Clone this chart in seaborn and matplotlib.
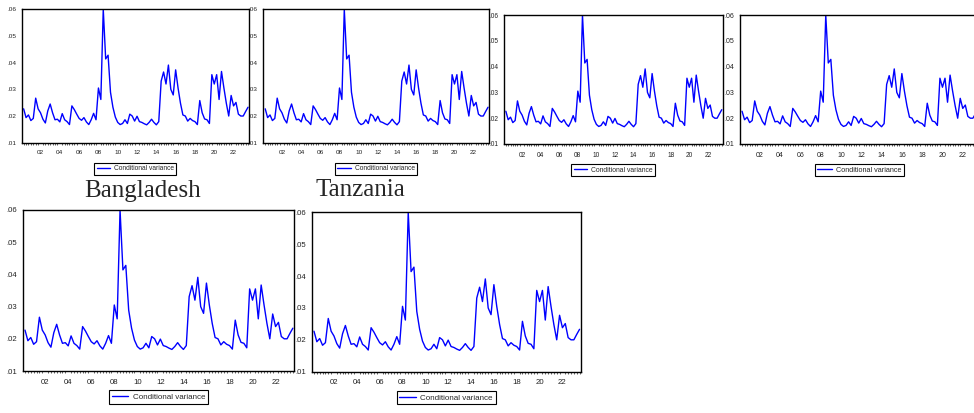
import matplotlib
matplotlib.use("Agg")
import matplotlib.pyplot as plt
import matplotlib.ticker as mticker
import numpy as np
import pandas as pd
import seaborn as sns

# ---- data (quarterly conditional variance, same series in every panel) ----
start_year = 2000.25          # first quarter shown
quarter_step = 0.25
cond_var = [0.0227, 0.0194, 0.0204, 0.0183, 0.0191, 0.0267, 0.0227, 0.0212, 0.0188, 0.0174,
            0.0219, 0.0245, 0.0212, 0.0186, 0.0188, 0.0178, 0.0209, 0.0186, 0.0179, 0.0168,
            0.0238, 0.0224, 0.0207, 0.0191, 0.0184, 0.0194, 0.0178, 0.0168, 0.0186, 0.0210,
            0.0186, 0.0305, 0.0262, 0.0600, 0.0414, 0.0428, 0.0289, 0.0233, 0.0196, 0.0176,
            0.0168, 0.0172, 0.0186, 0.0172, 0.0207, 0.0200, 0.0181, 0.0199, 0.0179, 0.0176,
            0.0171, 0.0167, 0.0176, 0.0188, 0.0176, 0.0167, 0.0179, 0.0331, 0.0365, 0.0320,
            0.0391, 0.0300, 0.0279, 0.0373, 0.0305, 0.0248, 0.0204, 0.0200, 0.0181, 0.0191,
            0.0183, 0.0179, 0.0168, 0.0258, 0.0212, 0.0189, 0.0186, 0.0172, 0.0355, 0.0320,
            0.0355, 0.0262, 0.0367, 0.0305, 0.0248, 0.0200, 0.0277, 0.0238, 0.0251, 0.0207,
            0.0200, 0.0200, 0.0217, 0.0233]
label_years = [2002, 2004, 2006, 2008, 2010, 2012, 2014, 2016, 2018, 2020, 2022]
year_labels = ["02", "04", "06", "08", "10", "12", "14", "16", "18", "20", "22"]
y_ticks = [0.01, 0.02, 0.03, 0.04, 0.05, 0.06]
series_name = "Conditional variance"
country_names = ["Bangladesh", "Tanzania"]

dates = start_year + quarter_step * np.arange(len(cond_var))
df = pd.DataFrame({"date": dates, "value": cond_var})

sns.set_style("white")
plt.rcParams["font.family"] = ["Liberation Sans", "DejaVu Sans"]

W, H = 974, 413
fig = plt.figure(figsize=(W / 100, H / 100), dpi=100)

# panel boxes in pixels: left, right, top, bottom ; font sizes
panels = [
    (21.7, 249.0, 9.3, 142.7, 4.6),
    (263.3, 489.0, 9.3, 142.7, 4.6),
    (504.0, 722.7, 15.0, 144.0, 4.7),
    (740.0, 979.0, 15.0, 144.0, 5.0),
    (22.7, 294.0, 210.0, 371.0, 5.6),
    (311.7, 580.7, 212.3, 371.7, 5.6),
]

for (l, r, t, b, fs) in panels:
    ax = fig.add_axes([l / W, 1 - b / H, (r - l) / W, (b - t) / H])
    sns.lineplot(data=df, x="date", y="value", ax=ax, color="#0000ff",
                 linewidth=1.0, label=series_name)
    ax.set_xlim(2000.05, 2023.6)
    ax.set_ylim(0.01, 0.06)
    ax.set_xlabel("")
    ax.set_ylabel("")
    ax.set_yticks(y_ticks)
    ax.yaxis.set_major_formatter(mticker.FuncFormatter(lambda v, p: f"{v:.2f}"[1:]))
    ax.set_xticks(label_years)
    ax.set_xticklabels(year_labels)
    ax.xaxis.set_minor_locator(mticker.FixedLocator(np.arange(2000.0, 2023.76, 0.25)))
    ax.tick_params(axis="both", which="major", direction="out", length=2.5,
                   width=0.6, labelsize=fs, pad=1.5, colors="black", labelcolor="#222222")
    ax.tick_params(axis="x", which="minor", direction="out", length=1.6, width=0.5,
                   bottom=True)
    ax.tick_params(axis="x", which="major", pad=3)
    for s in ax.spines.values():
        s.set_visible(True)
        s.set_color("black")
        s.set_linewidth(1.0)
    h_px = b - t
    leg = ax.legend(loc="center", bbox_to_anchor=(0.5, -26 / h_px), frameon=True,
                    fancybox=False, framealpha=1, edgecolor="black",
                    fontsize=fs + 0.2, handlelength=2.0, handletextpad=0.6,
                    borderpad=0.35, borderaxespad=0)
    leg.get_frame().set_linewidth(0.8)

fig.text(143 / W, 1 - 197 / H, country_names[0], ha="center", va="baseline",
         fontsize=18, family=["Liberation Serif", "DejaVu Serif"])
fig.text(360 / W, 1 - 196 / H, country_names[1], ha="center", va="baseline",
         fontsize=18, family=["Liberation Serif", "DejaVu Serif"])

fig.savefig("out.png", dpi=100, facecolor="white")
